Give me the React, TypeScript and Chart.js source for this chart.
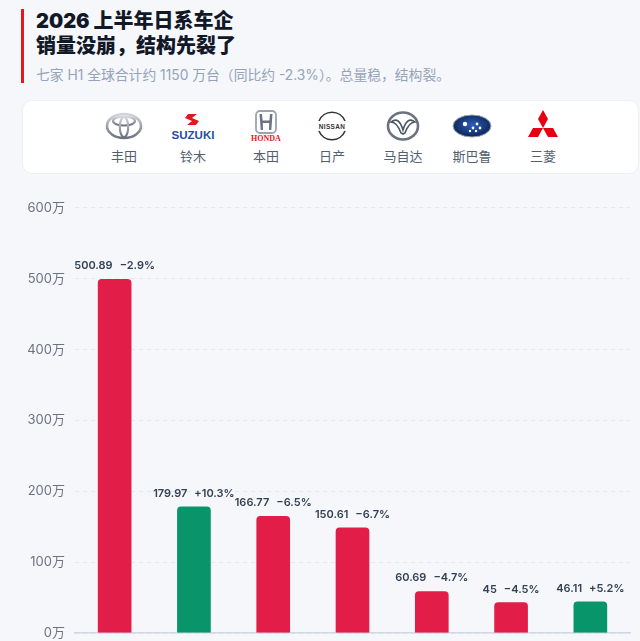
import React, { useEffect, useRef } from "react";
import { Chart, registerables } from "chart.js";

Chart.register(...registerables);

const categories = ["丰田", "铃木", "本田", "日产", "马自达", "斯巴鲁", "三菱"];
const sales = [500.89, 179.97, 166.77, 150.61, 60.69, 45, 46.11];
const yoy = [-2.9, 10.3, -6.5, -6.7, -4.7, -4.5, 5.2];
const yMax = 600;
const yStep = 100;
const tickUnit = "万";

const RED = "#e21d48";
const GREEN = "#08956a";
const FONT = 'Inter, "Noto Sans CJK SC", "Noto Sans", sans-serif';

function fmtPct(v: number) {
  return (v >= 0 ? "+" : "\u2212") + Math.abs(v).toFixed(1) + "%";
}

const labelPlugin = {
  id: "barLabels",
  afterDatasetsDraw(chart: any) {
    const ctx = chart.ctx;
    const meta = chart.getDatasetMeta(0);
    ctx.save();
    ctx.font = `600 11px ${FONT}`;
    ctx.fillStyle = "#334155";
    ctx.textBaseline = "middle";
    ctx.textAlign = "left";
    meta.data.forEach((bar: any, i: number) => {
      const t1 = String(sales[i]);
      const t2 = fmtPct(yoy[i]);
      const gap = 7;
      const w1 = ctx.measureText(t1).width;
      const w2 = ctx.measureText(t2).width;
      const total = w1 + gap + w2;
      const x0 = bar.x - total / 2;
      const y = bar.y - 12;
      ctx.fillText(t1, x0, y);
      ctx.fillText(t2, x0 + w1 + gap, y);
    });
    ctx.restore();
  },
};

function Logo({ name }: { name: string }) {
  if (name === "丰田") {
    return (
      <svg width="40" height="30" viewBox="0 0 40 30">
        <defs>
          <linearGradient id="tg" x1="0" y1="0" x2="0" y2="1">
            <stop offset="0" stopColor="#d1d5db" />
            <stop offset="1" stopColor="#6b7280" />
          </linearGradient>
        </defs>
        <ellipse cx="20" cy="15" rx="17" ry="12" fill="none" stroke="url(#tg)" strokeWidth="2.6" />
        <ellipse cx="20" cy="10" rx="11" ry="4.5" fill="none" stroke="url(#tg)" strokeWidth="2.2" />
        <ellipse cx="20" cy="16" rx="4.2" ry="10" fill="none" stroke="url(#tg)" strokeWidth="2.2" />
      </svg>
    );
  }
  if (name === "铃木") {
    return (
      <svg width="54" height="30" viewBox="0 0 54 30">
        <path d="M31 3 L22 3 L19 7 L26 10 L21 14 L30 14 L33 10 L26 7 Z" fill="#e3171c" />
        <text x="27" y="28" textAnchor="middle" fontFamily="Liberation Sans, Arial" fontWeight="900" fontSize="11.5" fill="#1f4ea1">SUZUKI</text>
      </svg>
    );
  }
  if (name === "本田") {
    return (
      <svg width="44" height="32" viewBox="0 0 44 32">
        <rect x="12" y="1" width="20" height="22" rx="4" fill="none" stroke="#9ca3af" strokeWidth="1.8" />
        <path d="M15.5 4 L18 4 L18.6 10.5 L25.4 10.5 L26 4 L28.5 4 L27.3 20 L25 20 L25.2 13 L18.8 13 L19 20 L16.7 20 Z" fill="#6b7280" />
        <text x="22" y="30.5" textAnchor="middle" fontFamily="Liberation Serif, serif" fontWeight="700" fontSize="8" fill="#e3171c">HONDA</text>
      </svg>
    );
  }
  if (name === "日产") {
    return (
      <svg width="40" height="32" viewBox="0 0 40 32">
        <path d="M7 11 A14 14 0 0 1 33 11" fill="none" stroke="#333" strokeWidth="1.6" />
        <path d="M7 21 A14 14 0 0 0 33 21" fill="none" stroke="#333" strokeWidth="1.6" />
        <text x="20" y="18.5" textAnchor="middle" fontFamily="Liberation Sans, Arial" fontWeight="700" fontSize="6.4" fill="#333" letterSpacing="0.4">NISSAN</text>
      </svg>
    );
  }
  if (name === "马自达") {
    return (
      <svg width="40" height="32" viewBox="0 0 40 32">
        <ellipse cx="20" cy="16" rx="15" ry="13.5" fill="none" stroke="#6b7280" strokeWidth="2.6" />
        <path d="M8 12 C13 8 17 10 20 20 C23 10 27 8 32 12 C28 12 25 15 22 23 L20 24 L18 23 C15 15 12 12 8 12 Z" fill="none" stroke="#4b5563" strokeWidth="1.6" />
      </svg>
    );
  }
  if (name === "斯巴鲁") {
    return (
      <svg width="44" height="30" viewBox="0 0 44 30">
        <defs>
          <radialGradient id="sg" cx="0.5" cy="0.45" r="0.6">
            <stop offset="0" stopColor="#2b5fb8" />
            <stop offset="1" stopColor="#0b1f4f" />
          </radialGradient>
        </defs>
        <ellipse cx="22" cy="15" rx="19" ry="11" fill="url(#sg)" stroke="#9ca3af" strokeWidth="1" />
        <circle cx="15" cy="13" r="2.2" fill="#fff" />
        <circle cx="23" cy="17" r="1.4" fill="#fff" />
        <circle cx="27" cy="13" r="1.4" fill="#fff" />
        <circle cx="30" cy="17" r="1.4" fill="#fff" />
        <circle cx="26" cy="20" r="1.2" fill="#fff" />
        <circle cx="20" cy="20" r="1.2" fill="#fff" />
      </svg>
    );
  }
  return (
    <svg width="40" height="34" viewBox="0 0 40 34">
      <path d="M20 1 L25 10 L20 19 L15 10 Z" fill="#e60012" />
      <path d="M20 19 L30 19 L35 28 L25 28 Z" fill="#e60012" />
      <path d="M20 19 L10 19 L5 28 L15 28 Z" fill="#e60012" />
    </svg>
  );
}

const logoX = [124, 193, 266, 332, 403, 472, 543];

export default function App() {
  const canvasRef = useRef<HTMLCanvasElement | null>(null);

  useEffect(() => {
    document.body.style.margin = "0";
    document.body.style.background = "#f6f7fb";
    const canvas = canvasRef.current;
    if (!canvas) return;
    const chart = new Chart(canvas, {
      type: "bar",
      data: {
        labels: categories,
        datasets: [
          {
            data: sales,
            backgroundColor: yoy.map((v) => (v >= 0 ? GREEN : RED)),
            borderColor: "rgba(255,255,255,0.35)",
            borderWidth: 1,
            borderRadius: { topLeft: 5, topRight: 5, bottomLeft: 0, bottomRight: 0 },
            borderSkipped: "bottom",
            barPercentage: 0.45,
            categoryPercentage: 1,
          },
        ],
      },
      options: {
        animation: false,
        responsive: false,
        maintainAspectRatio: false,
        layout: { padding: { top: 17, right: 10, bottom: 0, left: 0 } },
        plugins: {
          legend: { display: false },
          tooltip: { enabled: false },
        },
        scales: {
          x: {
            ticks: { display: false },
            grid: { display: false, drawTicks: false },
            border: { display: true, color: "#cfd8e3", width: 1.5 },
          },
          y: {
            min: 0,
            max: yMax,
            ticks: {
              stepSize: yStep,
              color: "#6b7280",
              font: { size: 13, family: FONT },
              padding: 10,
              callback: (v: any) => `${v}${tickUnit}`,
            },
            grid: { color: "#e3e7ee", lineWidth: 1, drawTicks: false },
            border: { display: false, dash: [4, 4] },
            afterFit: (scale: any) => {
              scale.width = 75;
            },
          },
        },
      },
      plugins: [labelPlugin],
    });
    return () => chart.destroy();
  }, []);

  return (
    <div
      style={{
        position: "relative",
        width: 640,
        height: 641,
        overflow: "hidden",
        background: "#f6f7fb",
        fontFamily: FONT,
      }}
    >
      <div style={{ position: "absolute", left: 21, top: 9, width: 3, height: 74, background: "#e3171c" }} />
      <div
        style={{
          position: "absolute",
          left: 36,
          top: 9,
          fontSize: 20,
          fontWeight: 900,
          lineHeight: "25px",
          color: "#111827",
        }}
      >
        <div>2026 上半年日系车企</div>
        <div>销量没崩，结构先裂了</div>
      </div>
      <div style={{ position: "absolute", left: 36, top: 64, fontSize: 13.8, color: "#94a3b8", whiteSpace: "nowrap" }}>
        七家 H1 全球合计约 1150 万台（同比约 -2.3%）。总量稳，结构裂。
      </div>
      <div
        style={{
          position: "absolute",
          left: 22,
          top: 100,
          width: 617,
          height: 74,
          background: "#ffffff",
          borderRadius: 10,
          border: "1px solid #eef0f4",
          boxSizing: "border-box",
        }}
      />
      {categories.map((c, i) => (
        <div
          key={c}
          style={{
            position: "absolute",
            left: logoX[i] - 35,
            top: 108,
            width: 70,
            textAlign: "center",
          }}
        >
          <div style={{ height: 36, display: "flex", alignItems: "center", justifyContent: "center" }}>
            <Logo name={c} />
          </div>
          <div style={{ fontSize: 13, color: "#52606d", marginTop: 2 }}>{c}</div>
        </div>
      ))}
      <canvas
        ref={canvasRef}
        width={640}
        height={461}
        style={{ position: "absolute", left: 0, top: 190, width: 640, height: 461 }}
      />
    </div>
  );
}
